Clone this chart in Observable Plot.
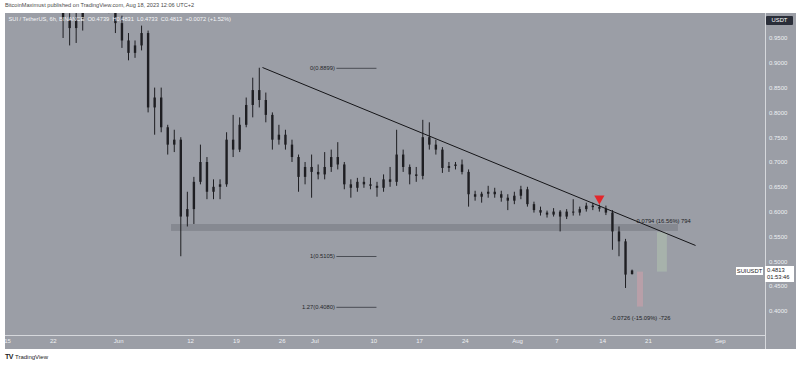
<!DOCTYPE html>
<html>
<head>
<meta charset="utf-8">
<script src="https://cdn.jsdelivr.net/npm/d3@7"></script>
<script src="https://cdn.jsdelivr.net/npm/@observablehq/plot@0.6"></script>
<style>
  html, body { margin: 0; padding: 0; background: #ffffff; }
  body { width: 800px; height: 366px; overflow: hidden; position: relative; font-family: "Liberation Sans", Arial, sans-serif; }
  #pub { position: absolute; left: 5px; top: 2px; font-size: 5.6px; color: #4a4a4a; white-space: nowrap; }
  #chart { position: absolute; left: 5px; top: 13px; }
  #logo { position: absolute; left: 5px; top: 353px; font-size: 6px; color: #222; white-space: nowrap; }
  #logo b { font-size: 7px; letter-spacing: -0.5px; margin-right: 2px; }
  .tag { position: absolute; font-size: 5.8px; white-space: nowrap; line-height: 7px; }
</style>
</head>
<body>
<div id="pub">BitcoinMaximust published on TradingView.com, Aug 18, 2023 12:06 UTC+2</div>
<div id="chart"></div>
<div id="logo"><b>TV</b>TradingView</div>
<script>
// ---------- DATA (daily candles, SUI/USDT) ----------
const startDay = "2023-05-15"; // first candle (UTC day)
const opens  = [1.07,1.05,1.04,1.05,1.06,1.03,1.04,1.03,1.02,0.985,0.97,0.99,1.02,1.04,1.05,1.03,1.01,0.98,0.945,0.92,0.935,0.96,0.81,0.83,0.77,0.735,0.745,0.59,0.605,0.66,0.70,0.64,0.65,0.655,0.745,0.725,0.775,0.815,0.845,0.825,0.795,0.745,0.755,0.735,0.71,0.67,0.69,0.68,0.675,0.69,0.71,0.695,0.655,0.648,0.66,0.655,0.652,0.648,0.665,0.66,0.715,0.69,0.675,0.672,0.75,0.735,0.725,0.688,0.692,0.695,0.68,0.635,0.63,0.636,0.64,0.635,0.628,0.622,0.632,0.645,0.615,0.603,0.598,0.594,0.60,0.59,0.60,0.598,0.605,0.612,0.609,0.606,0.598,0.56,0.54,0.4739];
const highs  = [1.10,1.08,1.07,1.09,1.08,1.06,1.07,1.05,1.04,1.0,1.01,1.03,1.06,1.08,1.08,1.05,1.03,0.995,0.96,0.945,0.975,0.965,0.85,0.85,0.775,0.765,0.75,0.64,0.67,0.735,0.71,0.665,0.665,0.76,0.795,0.79,0.83,0.87,0.89,0.84,0.80,0.775,0.765,0.745,0.715,0.70,0.715,0.695,0.72,0.725,0.74,0.70,0.665,0.668,0.67,0.668,0.66,0.675,0.69,0.765,0.725,0.695,0.69,0.785,0.78,0.745,0.73,0.70,0.70,0.705,0.685,0.642,0.64,0.652,0.648,0.642,0.635,0.64,0.652,0.65,0.62,0.61,0.602,0.607,0.603,0.605,0.625,0.61,0.618,0.618,0.614,0.612,0.603,0.57,0.545,0.4831];
const lows   = [1.03,1.02,1.01,1.03,1.02,1.01,1.02,1.005,0.95,0.935,0.94,0.965,1.005,1.02,1.01,1.0,0.96,0.93,0.905,0.91,0.925,0.80,0.755,0.76,0.715,0.72,0.51,0.57,0.575,0.655,0.625,0.625,0.625,0.65,0.71,0.72,0.77,0.79,0.81,0.78,0.725,0.735,0.725,0.70,0.64,0.655,0.628,0.665,0.665,0.68,0.685,0.645,0.628,0.64,0.648,0.645,0.63,0.64,0.65,0.652,0.68,0.655,0.66,0.665,0.725,0.715,0.678,0.68,0.685,0.675,0.61,0.622,0.618,0.628,0.628,0.62,0.603,0.615,0.625,0.61,0.598,0.592,0.588,0.59,0.56,0.585,0.592,0.592,0.60,0.603,0.60,0.593,0.523,0.51,0.446,0.4733];
const closes = [1.05,1.04,1.05,1.06,1.03,1.04,1.03,1.02,0.985,0.97,0.99,1.02,1.04,1.05,1.03,1.01,0.98,0.945,0.92,0.935,0.96,0.81,0.83,0.77,0.735,0.745,0.59,0.605,0.66,0.70,0.64,0.65,0.655,0.745,0.725,0.775,0.815,0.845,0.825,0.795,0.745,0.755,0.735,0.71,0.67,0.69,0.68,0.675,0.69,0.71,0.695,0.655,0.648,0.66,0.655,0.652,0.648,0.665,0.66,0.715,0.69,0.675,0.672,0.75,0.735,0.725,0.688,0.692,0.695,0.68,0.635,0.63,0.636,0.64,0.635,0.628,0.622,0.632,0.645,0.615,0.603,0.598,0.594,0.60,0.59,0.60,0.598,0.605,0.612,0.609,0.606,0.598,0.56,0.54,0.473,0.4813];

// price axis ticks and date axis ticks
const yTicks = [0.40,0.45,0.50,0.55,0.60,0.65,0.70,0.75,0.80,0.85,0.90,0.95];
const xTickDates  = ["2023-05-15","2023-05-22","2023-06-01","2023-06-12","2023-06-19","2023-06-26","2023-07-01","2023-07-10","2023-07-17","2023-07-24","2023-08-01","2023-08-07","2023-08-14","2023-08-21","2023-09-01"];
const xTickLabels = ["15","22","Jun","12","19","26","Jul","10","17","24","Aug","7","14","21","Sep"];

// drawings on the chart
const trendDates  = ["2023-06-22T23:45Z","2023-08-28T05:00Z"];
const trendPrices = [0.8915, 0.5327];
const zoneDates   = ["2023-06-09T02:00Z","2023-08-25T14:00Z"];
const zonePrices  = [0.561, 0.575];
const fibDates    = ["2023-07-04T07:00Z","2023-07-10T10:00Z"];
const fibPrices   = [0.8899, 0.5105, 0.4080];
const fibLabels   = ["0(0.8899)","1(0.5105)","1.27(0.4080)"];
const arrowDate   = "2023-08-13T12:00Z";
const arrowPrice  = 0.6274;
const upRangeDates   = ["2023-08-22T09:20Z","2023-08-23T21:40Z"];
const upRangePrices  = [0.479, 0.5585];
const upRangeLabel   = "0.0794 (16.56%) 794";
const upLabelAt      = ["2023-08-23T08:00Z", 0.581];
const downRangeDates  = ["2023-08-19T08:00Z","2023-08-20T06:00Z"];
const downRangePrices = [0.479, 0.4085];
const downRangeLabel  = "-0.0726 (-15.09%) -726";
const downLabelAt     = ["2023-08-19T19:00Z", 0.3855];
const headerText = "SUI / TetherUS, 6h, BINANCE  O0.4739  H0.4831  L0.4733  C0.4813  +0.0072 (+1.52%)";
const lastPrice = 0.4813;
const countdown = "01:53:46";

// ---------- BUILD ----------
const BG = "#9b9ea6";
const INK = "#1e1e22";
const AXIS_TXT = "#eef0f3";
const t0 = new Date(startDay + "T00:00Z");
const candles = opens.map((o, i) => ({
  date: new Date(+t0 + (i + 0.5) * 864e5),
  open: o, high: highs[i], low: lows[i], close: closes[i]
}));
const D = s => new Date(s);
const xDomain = [D("2023-05-14T16:40Z"), D("2023-09-07T21:40Z")];
const yDomain = [0.3512, 1.0004];
const tickMap = new Map(xTickDates.map((d, i) => [+D(d + "T00:00Z"), xTickLabels[i]]));

const chart = Plot.plot({
  width: 791, height: 336,
  marginLeft: 0, marginRight: 31, marginTop: 0, marginBottom: 14,
  style: {background: BG, fontFamily: "'Liberation Sans', Arial, sans-serif", fontSize: "6px"},
  x: {type: "utc", domain: xDomain, label: null},
  y: {domain: yDomain, label: null},
  marks: [
    // support zone
    Plot.rect([0], {x1: () => D(zoneDates[0]), x2: () => D(zoneDates[1]), y1: () => zonePrices[0], y2: () => zonePrices[1], fill: "#5a5d66", fillOpacity: 0.33}),
    // fib levels
    Plot.link(fibPrices, {x1: () => D(fibDates[0]), x2: () => D(fibDates[1]), y1: d => d, y2: d => d, stroke: "#4a4d54", strokeWidth: 1}),
    Plot.text(fibPrices, {x: () => D(fibDates[0]), y: d => d, text: (d, i) => fibLabels[i], textAnchor: "end", dx: -1.5, fill: "#26272b", fontSize: 5.8}),
    // price range tools
    Plot.rect([0], {x1: () => D(upRangeDates[0]), x2: () => D(upRangeDates[1]), y1: () => upRangePrices[0], y2: () => upRangePrices[1], fill: "#c4e6bc", fillOpacity: 0.28}),
    Plot.rect([0], {x1: () => D(downRangeDates[0]), x2: () => D(downRangeDates[1]), y1: () => downRangePrices[0], y2: () => downRangePrices[1], fill: "#f5a3ad", fillOpacity: 0.32}),
    Plot.text([upRangeLabel], {x: () => D(upLabelAt[0]), y: () => upLabelAt[1], text: d => d, fill: "#202125", fontSize: 5.8}),
    Plot.text([downRangeLabel], {x: () => D(downLabelAt[0]), y: () => downLabelAt[1], text: d => d, fill: "#202125", fontSize: 5.8}),
    // candles
    Plot.ruleX(candles, {x: "date", y1: "low", y2: "high", stroke: INK, strokeWidth: 1, clip: true}),
    Plot.ruleX(candles, {x: "date", y1: "open", y2: "close", stroke: INK, strokeWidth: 2.4, clip: true}),
    // descending trendline
    Plot.link([0], {x1: () => D(trendDates[0]), x2: () => D(trendDates[1]), y1: () => trendPrices[0], y2: () => trendPrices[1], stroke: "#151518", strokeWidth: 1}),
    // rejection arrow
    Plot.dot([0], {x: () => D(arrowDate), y: () => arrowPrice, symbol: "triangle", rotate: 180, r: 3.8, fill: "#e3262b", stroke: "none"}),
    // separators
    Plot.ruleY([yDomain[0]], {stroke: "#d6d8dc", strokeWidth: 1}),
    Plot.ruleX([xDomain[1]], {y1: 0.30, y2: yDomain[1] + 0.05, stroke: "#d6d8dc", strokeWidth: 1}),
    // axes
    Plot.axisY({anchor: "right", ticks: yTicks, tickFormat: d => d.toFixed(4), tickSize: 0, tickPadding: 3.5, fill: AXIS_TXT, fontSize: 6}),
    Plot.axisX({ticks: xTickDates.map(d => D(d + "T00:00Z")), tickFormat: d => tickMap.get(+d), tickSize: 0, tickPadding: 3, fill: AXIS_TXT, fontSize: 6}),
    // header
    Plot.text([headerText], {frameAnchor: "top-left", dx: 3, dy: 3, text: d => d, textAnchor: "start", fill: "#f4f5f7", fontSize: 5.7})
  ]
});
document.getElementById("chart").appendChild(chart);

// price-scale badges positioned through the chart's own y scale
const yPx = chart.scale("y").apply(lastPrice);
const host = document.body;
function tag(html, css) { const d = document.createElement("div"); d.className = "tag"; d.innerHTML = html; Object.assign(d.style, css); host.appendChild(d); }
tag("USDT", {left: "766px", top: "16px", width: "27px", height: "9px", lineHeight: "9px", background: "#2a2e39", color: "#fff", textAlign: "center", borderRadius: "1px"});
tag(lastPrice.toFixed(4) + "<br>" + countdown, {left: "765px", top: (13 + yPx - 4.5) + "px", width: "29px", padding: "1px 0 1px 2px", background: "#ffffff", color: "#202125", boxSizing: "border-box"});
tag("SUIUSDT", {left: "736px", top: (13 + yPx - 3.5) + "px", width: "27px", height: "8px", lineHeight: "8px", background: "#ffffff", color: "#202125", textAlign: "center"});
</script>
</body>
</html>
